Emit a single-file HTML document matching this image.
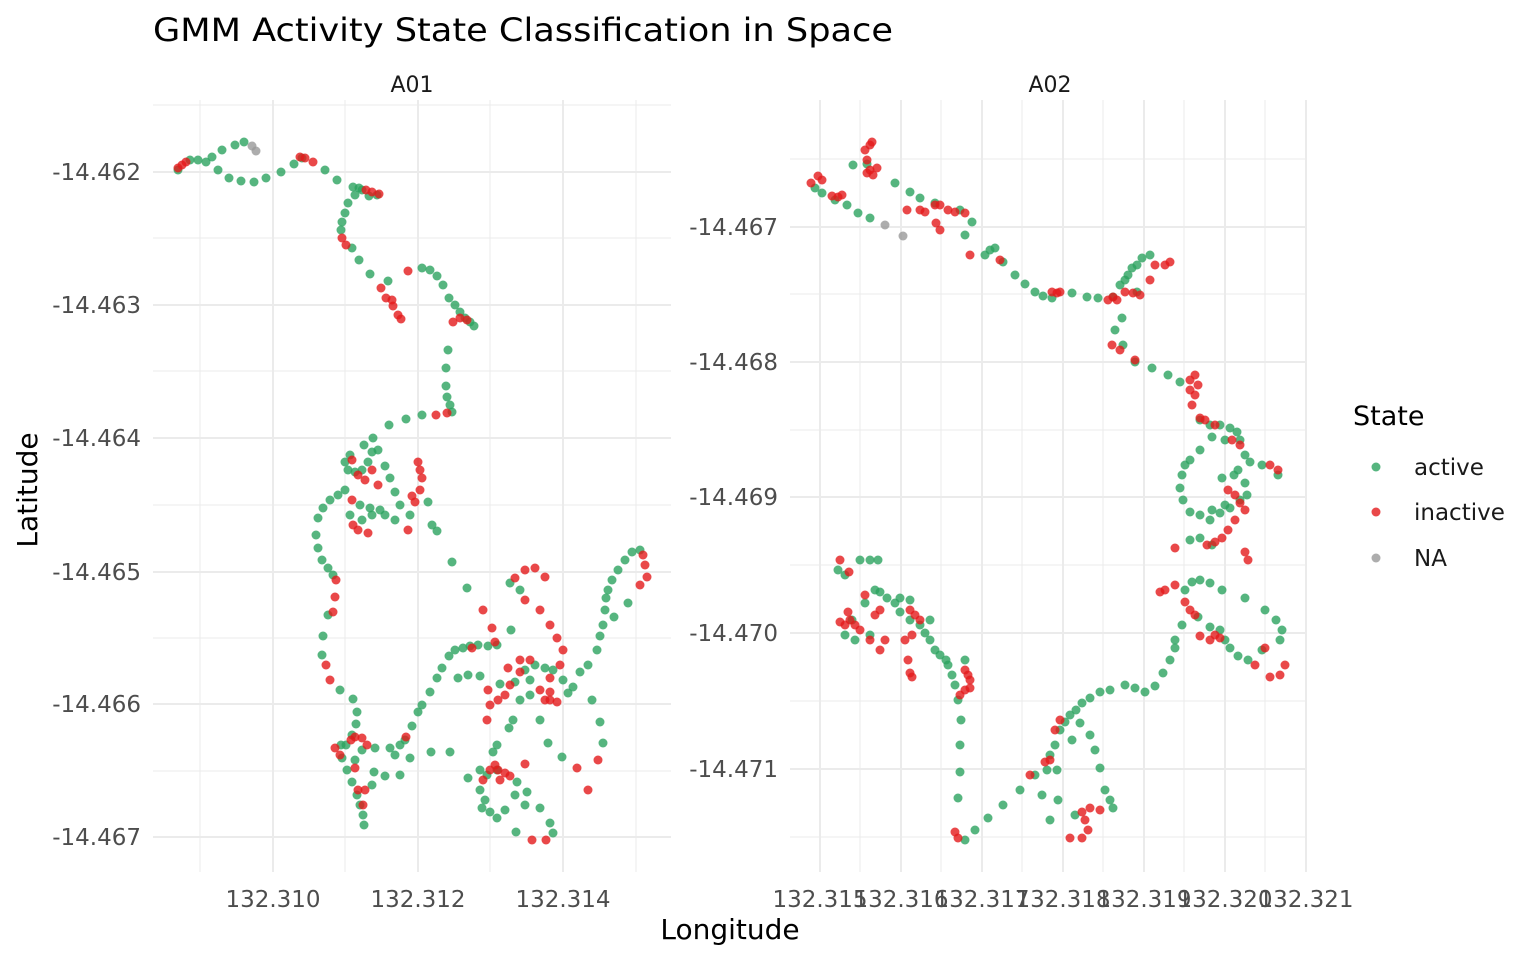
<!DOCTYPE html>
<html><head><meta charset="utf-8"><style>
body{margin:0;background:#fff;}
svg{display:block;font-family:"DejaVu Sans","Liberation Sans",sans-serif;}
</style></head><body>
<svg id="s" width="1536" height="960" xmlns="http://www.w3.org/2000/svg">
<rect width="1536" height="960" fill="#fff"/>
<g id="grid"></g>
<g id="pts"></g>
<text x="153" y="41" font-size="32" fill="#000" textLength="740" lengthAdjust="spacingAndGlyphs">GMM Activity State Classification in Space</text>
<text x="412" y="92" font-size="22" fill="#1a1a1a" text-anchor="middle">A01</text>
<text x="1050" y="92" font-size="22" fill="#1a1a1a" text-anchor="middle">A02</text>
<g font-size="23" fill="#4d4d4d" text-anchor="end">
<text x="141" y="180">-14.462</text><text x="141" y="313">-14.463</text><text x="141" y="446">-14.464</text>
<text x="141" y="580">-14.465</text><text x="141" y="712">-14.466</text><text x="141" y="845">-14.467</text>
<text x="778" y="235">-14.467</text><text x="778" y="370">-14.468</text><text x="778" y="505">-14.469</text>
<text x="778" y="641">-14.470</text><text x="778" y="777">-14.471</text>
</g>
<g font-size="23" fill="#4d4d4d" text-anchor="middle">
<text x="273" y="907">132.310</text><text x="418" y="907">132.312</text><text x="563" y="907">132.314</text>
<text x="820" y="907">132.315</text><text x="901" y="907">132.316</text><text x="982" y="907">132.317</text>
<text x="1063" y="907">132.318</text><text x="1144" y="907">132.319</text><text x="1225" y="907">132.320</text>
<text x="1306" y="907">132.321</text>
</g>
<text x="730" y="939" font-size="28" text-anchor="middle" fill="#000">Longitude</text>
<text transform="translate(37,490) rotate(-90)" font-size="28" text-anchor="middle" fill="#000">Latitude</text>
<text x="1353" y="425" font-size="27" fill="#000">State</text>
<circle cx="1376" cy="467" r="4.5" fill="#2ca25f" fill-opacity="0.8"/>
<circle cx="1376" cy="512" r="4.5" fill="#e31a1c" fill-opacity="0.8"/>
<circle cx="1376" cy="558" r="4.5" fill="#999" fill-opacity="0.8"/>
<g font-size="23" fill="#1a1a1a"><text x="1414" y="475">active</text><text x="1414" y="520">inactive</text><text x="1414" y="566">NA</text></g>
</svg>
<script>
var NS="http://www.w3.org/2000/svg";
function el(p,t,a){var e=document.createElementNS(NS,t);for(var k in a)e.setAttribute(k,a[k]);p.appendChild(e);}
var g=document.getElementById("grid");
function hl(x1,x2,y,w){el(g,"line",{x1:x1,x2:x2,y1:y,y2:y,stroke:"#ebebeb","stroke-width":w});}
function vl(x,y1,y2,w){el(g,"line",{x1:x,x2:x,y1:y1,y2:y2,stroke:"#ebebeb","stroke-width":w});}
[105,238,371,505,638,771].forEach(function(y){hl(153,671,y,1);});
[172,305,438,572,704,837].forEach(function(y){hl(153,671,y,2);});
[200,345,490,636].forEach(function(x){vl(x,100,872,1);});
[273,418,563].forEach(function(x){vl(x,100,872,2);});
[159,294,430,565,701,837].forEach(function(y){hl(790,1306,y,1);});
[227,362,497,633,769].forEach(function(y){hl(790,1306,y,2);});
[860,941,1022,1103,1184,1265].forEach(function(x){vl(x,100,872,1);});
[820,901,982,1063,1144,1225,1306].forEach(function(x){vl(x,100,872,2);});
var G=[[178,170],[190,160],[198,160],[206,162],[212,157],[218,170],[229,178],[241,181],[254,182],[266,178],[281,172],[294,164],[302,158],[222,150],[235,145],[244,142],[325,170],[337,180],[353,187],[362,190],[369,196],[377,195],[359,188],[355,195],[348,203],[345,213],[342,222],[341,230],[352,248],[359,260],[370,274],[388,281],[422,268],[430,270],[437,276],[443,285],[449,298],[455,305],[460,312],[465,318],[470,322],[474,326],[448,350],[446,368],[446,386],[447,397],[450,405],[452,412],[422,415],[406,419],[389,425],[373,438],[364,445],[350,455],[345,462],[348,470],[355,472],[362,470],[368,462],[372,452],[378,450],[385,466],[390,478],[395,492],[400,505],[410,515],[428,502],[395,520],[385,515],[370,508],[360,505],[350,515],[362,520],[372,515],[380,510],[345,490],[338,495],[330,500],[323,508],[318,518],[316,535],[318,548],[322,560],[328,568],[333,575],[328,615],[323,636],[322,655],[340,690],[353,699],[357,712],[356,724],[352,735],[346,745],[342,758],[347,770],[352,782],[357,795],[360,805],[363,815],[364,825],[385,776],[374,772],[395,755],[405,740],[412,726],[418,712],[422,705],[430,692],[437,678],[442,668],[449,656],[455,650],[463,648],[470,646],[478,645],[488,646],[497,645],[511,630],[458,678],[468,675],[480,676],[500,684],[515,682],[525,670],[535,665],[545,668],[553,670],[563,680],[568,693],[573,687],[580,672],[588,665],[597,650],[600,636],[603,625],[605,610],[606,598],[608,590],[612,580],[618,570],[625,560],[632,552],[640,550],[628,603],[614,617],[467,588],[452,562],[437,531],[432,525],[510,583],[520,590],[513,720],[520,700],[509,728],[497,745],[493,752],[497,770],[487,775],[480,790],[482,808],[497,818],[505,810],[517,782],[527,792],[540,808],[550,823],[553,833],[548,743],[540,720],[530,695],[530,680],[516,832],[515,795],[468,778],[450,752],[431,752],[410,758],[400,775],[372,785],[355,760],[341,745],[362,750],[375,748],[390,748],[400,745],[600,722],[603,743],[592,700],[562,757],[525,805],[480,770],[485,800],[490,812],
[815,188],[822,193],[835,200],[847,205],[858,213],[870,218],[853,165],[867,164],[895,183],[910,192],[920,198],[935,203],[960,210],[972,222],[965,235],[985,255],[990,250],[995,248],[1003,262],[1015,275],[1025,284],[1035,292],[1043,296],[1052,298],[1072,293],[1087,297],[1098,298],[1113,297],[1120,285],[1125,280],[1128,275],[1132,268],[1137,265],[1142,258],[1150,255],[1137,292],[1122,318],[1115,330],[1123,345],[1135,362],[1152,368],[1168,375],[1180,382],[1200,420],[1210,425],[1220,425],[1230,428],[1237,432],[1240,440],[1245,455],[1250,462],[1262,465],[1278,475],[1225,440],[1212,437],[1200,450],[1190,460],[1185,465],[1182,475],[1180,488],[1183,500],[1190,512],[1200,515],[1210,520],[1220,513],[1230,508],[1240,500],[1247,495],[1212,510],[1225,505],[1190,540],[1200,538],[1212,545],[1222,478],[1234,475],[1245,483],[1238,470],[1185,590],[1192,582],[1200,580],[1210,583],[1222,590],[1245,598],[1265,610],[1276,620],[1282,630],[1280,640],[1262,650],[1248,660],[1238,656],[1230,648],[1225,640],[1220,630],[1210,627],[1198,617],[1182,625],[1175,640],[1175,648],[1170,660],[1163,673],[1155,686],[1145,692],[1135,688],[1125,685],[1110,690],[1100,692],[1090,698],[1082,703],[1076,710],[1070,715],[1065,722],[1060,730],[1055,745],[1050,755],[1047,770],[1042,795],[1050,820],[1058,800],[1075,815],[1090,735],[1095,750],[1100,768],[1105,790],[1110,800],[1113,808],[1035,775],[1020,790],[1003,805],[988,818],[975,830],[965,840],[958,798],[960,772],[960,745],[961,720],[958,700],[955,685],[952,675],[948,665],[940,655],[935,650],[930,640],[925,633],[920,625],[910,620],[900,612],[895,603],[887,598],[880,592],[875,590],[865,603],[852,620],[845,635],[855,640],[870,635],[860,560],[870,560],[878,560],[838,570],[845,575],[930,620],[910,600],[900,598],[946,660],[965,660],[1080,723],[1072,740],[1057,770]];
var R=[[178,168],[182,165],[186,162],[300,157],[305,158],[313,162],[366,190],[372,192],[379,194],[342,238],[346,245],[381,288],[386,298],[393,306],[398,315],[401,319],[392,300],[408,271],[453,322],[460,318],[467,320],[436,415],[447,413],[418,462],[420,470],[422,478],[420,490],[352,460],[358,475],[365,480],[372,470],[378,485],[352,500],[353,525],[358,530],[368,533],[412,496],[415,502],[408,530],[336,580],[335,597],[333,612],[326,665],[330,680],[335,748],[340,755],[351,740],[355,737],[362,738],[367,745],[355,768],[365,790],[363,805],[358,790],[406,737],[483,610],[492,628],[495,642],[472,648],[488,690],[490,705],[487,720],[515,578],[525,570],[535,568],[545,577],[525,600],[540,610],[550,625],[557,638],[563,650],[560,665],[550,678],[540,690],[550,692],[520,672],[510,685],[505,695],[498,700],[508,668],[520,660],[530,660],[545,700],[550,700],[557,702],[525,764],[510,776],[505,773],[498,770],[500,780],[490,770],[483,780],[495,765],[577,768],[598,760],[588,790],[532,840],[546,840],[640,585],[645,565],[647,577],[643,555],
[811,183],[818,176],[822,180],[832,196],[838,197],[842,195],[865,150],[870,145],[872,142],[867,160],[870,170],[873,175],[867,173],[877,168],[907,210],[920,210],[925,212],[935,205],[940,205],[948,210],[955,212],[965,213],[936,223],[940,230],[970,255],[1000,260],[1052,292],[1057,293],[1060,292],[1108,300],[1113,297],[1117,300],[1125,292],[1133,293],[1140,295],[1150,280],[1155,265],[1165,265],[1170,262],[1112,345],[1120,350],[1135,360],[1190,380],[1195,375],[1198,385],[1190,390],[1195,395],[1192,405],[1200,418],[1205,420],[1215,425],[1232,440],[1240,445],[1270,465],[1278,470],[1228,490],[1235,495],[1240,503],[1245,510],[1235,520],[1228,530],[1222,538],[1215,542],[1207,545],[1245,552],[1248,560],[1175,548],[1160,592],[1165,590],[1175,585],[1185,602],[1190,610],[1195,615],[1200,636],[1210,640],[1215,635],[1220,638],[1265,648],[1270,677],[1280,675],[1285,665],[1255,665],[1060,720],[1055,730],[1050,760],[1082,812],[1090,808],[1100,810],[1085,820],[1088,830],[1082,838],[1070,838],[1045,762],[850,620],[855,625],[860,630],[870,640],[880,650],[848,612],[845,625],[840,622],[875,615],[880,610],[865,595],[885,640],[910,610],[915,615],[920,620],[912,635],[905,640],[908,660],[910,673],[912,677],[960,695],[965,690],[970,688],[970,680],[968,675],[965,670],[955,832],[958,838],[1030,775],[840,560],[849,572]];
var N=[[252,146],[256,151],[885,225],[903,236]];
var p=document.getElementById("pts");
function draw(a,c){a.forEach(function(q){el(p,"circle",{cx:q[0],cy:q[1],r:4.5,fill:c,"fill-opacity":0.8});});}
draw(G,"#2ca25f");draw(R,"#e31a1c");draw(N,"#999999");
</script>
</body></html>
